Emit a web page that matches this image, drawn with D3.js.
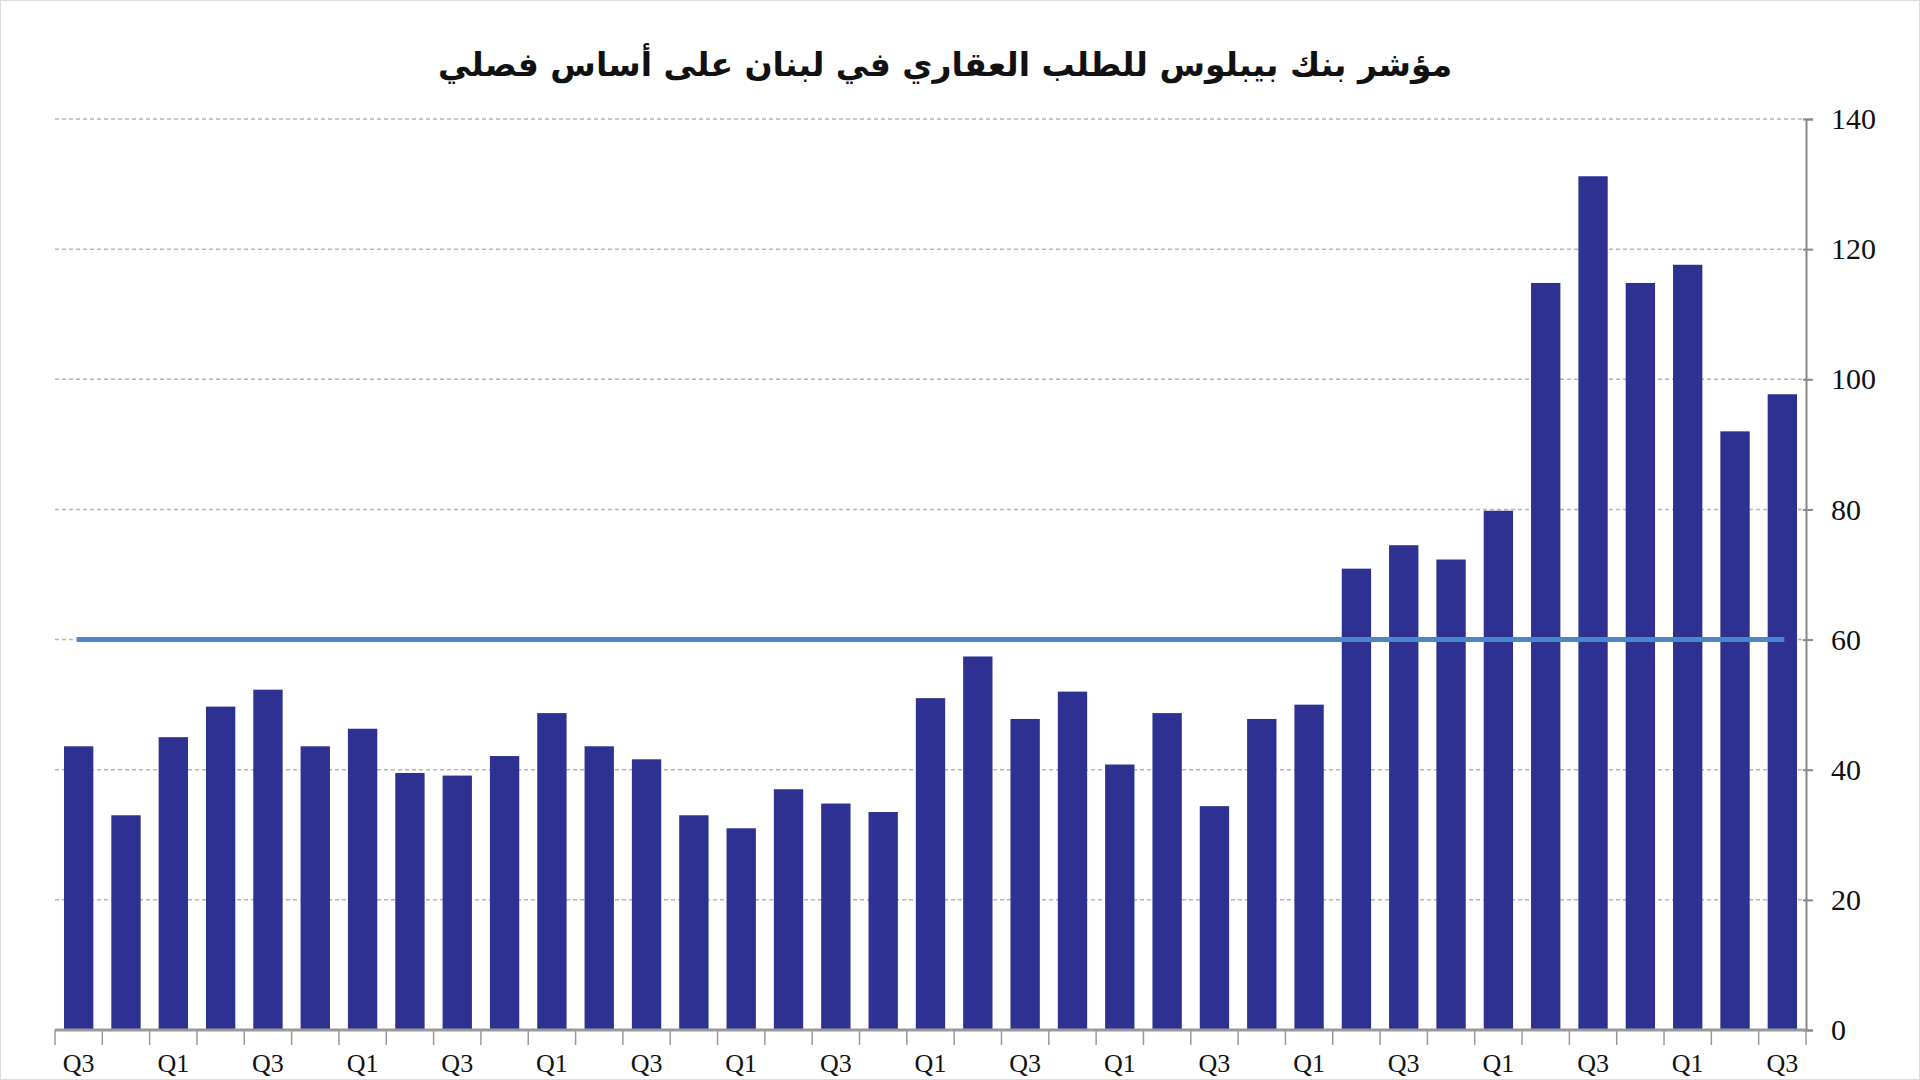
<!DOCTYPE html>
<html><head><meta charset="utf-8">
<script src="https://cdn.jsdelivr.net/npm/d3@7"></script>
<style>body{margin:0;background:#fff;overflow:hidden}</style>
</head><body><div id="chart"></div>
<script>
// index values, oldest first
let values = [43.6, 33, 45, 49.7, 52.3, 43.6, 46.3, 39.5, 39.1, 42.1, 48.7, 43.6, 41.6,
    33, 31, 37, 34.8, 33.5, 51, 57.4, 47.8, 52, 40.8, 48.7, 34.4, 47.8, 50,
    70.9, 74.5, 72.3, 79.8, 114.8, 131.2, 114.8, 117.6, 92, 97.7];
let quarters = values.map((d, i) => ["Q3", "Q4", "Q1", "Q2"][i % 4]);
let yTicks = [0, 20, 40, 60, 80, 100, 120, 140];
let average = 60;
let title = "مؤشر بنك بيبلوس للطلب العقاري في لبنان على أساس فصلي";

let width = 1920, height = 1080;
let svg = d3.select("#chart").append("svg").attr("width", width).attr("height", height);

svg.append("rect").attr("x", 0.5).attr("y", 0.5).attr("width", width - 1).attr("height", height - 1)
    .attr("fill", "none").attr("stroke", "#ddd");

let x = d3.scaleBand().domain(d3.range(values.length)).range([55, 1806]).paddingInner(0.38).paddingOuter(0.19);
let y = d3.scaleLinear().domain([0, 140]).range([1030, 119]);

// grid
svg.append("g").selectAll("line").data(yTicks.slice(1)).join("line")
    .attr("x1", 55).attr("x2", 1806).attr("y1", d => y(d)).attr("y2", d => y(d))
    .attr("stroke", "#b5b5b5").attr("stroke-dasharray", "4,3").attr("stroke-width", 1.5);

// bars
svg.append("g").selectAll("rect").data(values).join("rect")
    .attr("x", (d, i) => x(i)).attr("width", x.bandwidth())
    .attr("y", d => y(d)).attr("height", d => y(0) - y(d))
    .attr("fill", "#2e3192");

// average line
svg.append("line")
    .attr("x1", x(0) + x.bandwidth() / 2 - 2).attr("x2", x(values.length - 1) + x.bandwidth() / 2 + 2)
    .attr("y1", y(average)).attr("y2", y(average))
    .attr("stroke", "#4a86c8").attr("stroke-width", 5);

// right axis
let yAxis = svg.append("g").attr("transform", "translate(1806,0)")
    .call(d3.axisRight(y).tickValues(yTicks).tickSize(7).tickPadding(18));
yAxis.select(".domain").attr("stroke", "#888").attr("stroke-width", 2);
yAxis.selectAll(".tick line").attr("stroke", "#888").attr("stroke-width", 2).attr("x1", -3);
yAxis.selectAll("text").attr("font-family", "Liberation Serif").attr("font-size", 30).attr("fill", "#111");

// bottom axis
let step = x.step();
svg.append("line").attr("x1", 55).attr("x2", 1806).attr("y1", y(0)).attr("y2", y(0))
    .attr("stroke", "#999").attr("stroke-width", 3);
svg.append("g").selectAll("line").data(d3.range(values.length + 1)).join("line")
    .attr("x1", i => x(0) - x.paddingInner() * step / 2 + i * step)
    .attr("x2", i => x(0) - x.paddingInner() * step / 2 + i * step)
    .attr("y1", y(0)).attr("y2", y(0) + 15)
    .attr("stroke", "#999").attr("stroke-width", 1.5);
svg.append("g").selectAll("text").data(values.map((d, i) => i).filter(i => i % 2 === 0)).join("text")
    .attr("x", i => x(i) + x.bandwidth() / 2).attr("y", 1072)
    .attr("text-anchor", "middle").attr("font-family", "Liberation Serif").attr("font-size", 26)
    .attr("fill", "#111").text(i => quarters[i]);

svg.append("text").attr("x", 945).attr("y", 76).attr("text-anchor", "middle")
    .attr("direction", "rtl").attr("font-family", "DejaVu Sans").attr("font-weight", "bold")
    .attr("font-size", 33).attr("fill", "#111").text(title);
</script></body></html>
